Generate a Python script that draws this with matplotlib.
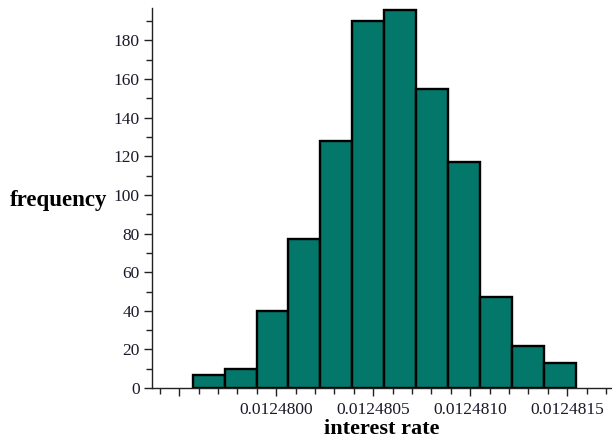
import numpy as np
import matplotlib
matplotlib.use("Agg")
import matplotlib.pyplot as plt
from matplotlib.ticker import FixedLocator, MultipleLocator

# histogram data
bin_start = 0.01247957
bin_width = 1.645e-7
counts = [7, 10, 40, 77, 128, 190, 196, 155, 117, 47, 22, 13]
x_major_ticks = [0.0124795, 0.0124800, 0.0124805, 0.0124810, 0.0124815]
x_tick_labels = ["", "0.0124800", "0.0124805", "0.0124810", "0.0124815"]
y_major_ticks = [0, 20, 40, 60, 80, 100, 120, 140, 160, 180]

edges = bin_start + bin_width * np.arange(len(counts))

plt.rcParams['font.family'] = ['Liberation Serif', 'DejaVu Serif']

fig = plt.figure(figsize=(6.12, 4.43), dpi=100)
ax = fig.add_axes([0.2484, 0.124, 0.7496, 0.857])

ax.bar(edges, counts, width=bin_width, align='edge', color='#02776a',
       edgecolor='black', linewidth=1.7, zorder=3)

ax.set_xlim(0.01247936, 0.012481725)
ax.set_ylim(0, 196.6)

for s in ['top', 'right']:
    ax.spines[s].set_visible(False)
for s in ['left', 'bottom']:
    ax.spines[s].set_linewidth(1.0)
    ax.spines[s].set_color('#222222')

ax.xaxis.set_major_locator(FixedLocator(x_major_ticks))
ax.set_xticklabels(x_tick_labels)
ax.xaxis.set_minor_locator(MultipleLocator(1e-7))
ax.yaxis.set_major_locator(FixedLocator(y_major_ticks))
ax.yaxis.set_minor_locator(MultipleLocator(10))

ax.tick_params(axis='both', which='major', length=6, width=1, color='#222222',
               labelsize=12.5, labelcolor='#1a1a2a')
ax.tick_params(axis='both', which='minor', length=4, width=1, color='#222222')
ax.tick_params(axis='x', which='major', pad=4)
ax.tick_params(axis='y', which='major', pad=3)

ax.set_xlabel('interest rate', fontsize=16, fontweight='bold', labelpad=1)
fig.text(0.016, 0.548, 'frequency', fontsize=16.5, fontweight='bold',
         ha='left', va='center')

fig.savefig('out.png', dpi=100)
